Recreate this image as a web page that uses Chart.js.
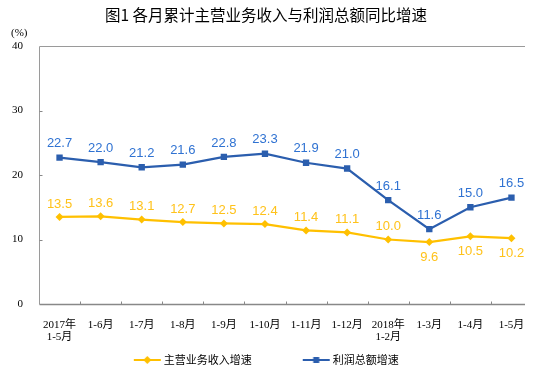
<!DOCTYPE html>
<html>
<head>
<meta charset="utf-8">
<script src="https://cdn.jsdelivr.net/npm/chart.js@4/dist/chart.umd.min.js"></script>
<style>
html,body{margin:0;padding:0;background:#fff;}
#wrap{width:538px;height:380px;}
</style>
</head>
<body>
<div id="wrap"><canvas id="c" width="538" height="380"></canvas></div>
<script>
// ---- data ----
const categories = [
  ["2017年", "1-5月"], "1-6月", "1-7月", "1-8月", "1-9月", "1-10月",
  "1-11月", "1-12月", ["2018年", "1-2月"], "1-3月", "1-4月", "1-5月"
];
const incomeGrowth = [13.5, 13.6, 13.1, 12.7, 12.5, 12.4, 11.4, 11.1, 10.0, 9.6, 10.5, 10.2];
const profitGrowth = [22.7, 22.0, 21.2, 21.6, 22.8, 23.3, 21.9, 21.0, 16.1, 11.6, 15.0, 16.5];
const yTicks = [0, 10, 20, 30, 40];
const seriesNames = ["主营业务收入增速", "利润总额增速"];
const titleText = "图1 各月累计主营业务收入与利润总额同比增速";
const unitText = "(%)";
// label placement for income series: true = below point
const incomeLabelBelow = [false, false, false, false, false, false, false, false, false, true, true, true];

const YELLOW = "#FFC000";
const YELLOW_TXT = "#FFC21A";
const BLUE = "#2B5EAE";
const BLUE_TXT = "#2F72D2";
const CJK = "'Noto Sans CJK SC', sans-serif";
const SERIF = "'Liberation Serif', 'Noto Sans CJK SC', serif";

function legendIcon(color, shape) {
  const w = 32, h = 10;
  const c = document.createElement('canvas');
  c.width = w; c.height = h;
  const g = c.getContext('2d');
  g.strokeStyle = color; g.lineWidth = 2;
  g.beginPath(); g.moveTo(w - 28, h / 2); g.lineTo(w - 1, h / 2); g.stroke();
  g.fillStyle = color;
  const cx = w - 14.5, cy = h / 2;
  if (shape === 'diamond') {
    g.beginPath(); g.moveTo(cx, cy - 4); g.lineTo(cx + 4, cy); g.lineTo(cx, cy + 4); g.lineTo(cx - 4, cy); g.closePath(); g.fill();
  } else {
    g.fillRect(cx - 3, cy - 3, 6, 6);
  }
  return c;
}

const framePlugin = {
  id: 'frame',
  beforeDatasetsDraw(chart) {
    const {ctx, chartArea: a, scales: {x, y}} = chart;
    const right = a.right - 7;
    ctx.save();
    ctx.strokeStyle = '#9a9a9a';
    ctx.lineWidth = 1;
    ctx.beginPath();
    const top = Math.round(y.getPixelForValue(40)) + 0.5;
    const bot = Math.round(y.getPixelForValue(0)) + 0.5;
    const left = Math.round(a.left) + 0.5;
    ctx.moveTo(left, top); ctx.lineTo(right, top);
    ctx.moveTo(left, top); ctx.lineTo(left, bot);
    ctx.stroke();
    ctx.strokeStyle = '#888';
    ctx.lineWidth = 1.5;
    ctx.beginPath();
    ctx.moveTo(left, bot); ctx.lineTo(right, bot);
    ctx.stroke();
    ctx.lineWidth = 1;
    ctx.beginPath();
    yTicks.forEach(v => {
      if (v === 0 || v === 40) return;
      const py = Math.round(y.getPixelForValue(v)) + 0.5;
      ctx.moveTo(left, py); ctx.lineTo(left + 3, py);
    });
    for (let i = 1; i < categories.length; i++) {
      const px = Math.round((x.getPixelForValue(i - 1) + x.getPixelForValue(i)) / 2) + 0.5;
      ctx.moveTo(px, bot); ctx.lineTo(px, bot - 3);
    }
    ctx.stroke();
    ctx.restore();
  },
  afterDraw(chart) {
    const {ctx} = chart;
    ctx.save();
    ctx.font = "11px " + SERIF;
    ctx.fillStyle = '#000';
    ctx.textAlign = 'left';
    ctx.textBaseline = 'middle';
    ctx.fillText(unitText, 11, 33);
    ctx.restore();
  }
};

const labelPlugin = {
  id: 'valueLabels',
  afterDatasetsDraw(chart) {
    const {ctx} = chart;
    ctx.save();
    ctx.font = "13px 'Liberation Sans', Arial, sans-serif";
    ctx.textAlign = 'center';
    ctx.textBaseline = 'middle';
    chart.data.datasets.forEach((ds, di) => {
      const meta = chart.getDatasetMeta(di);
      meta.data.forEach((pt, i) => {
        const v = ds.data[i];
        let dy;
        if (di === 0) dy = incomeLabelBelow[i] ? 15 : -13;
        else dy = -14;
        ctx.fillStyle = di === 0 ? YELLOW_TXT : BLUE_TXT;
        ctx.fillText(v.toFixed(1), pt.x, pt.y + dy);
      });
    });
    ctx.restore();
  }
};

new Chart(document.getElementById('c'), {
  type: 'line',
  data: {
    labels: categories,
    datasets: [
      {
        label: seriesNames[0],
        data: incomeGrowth,
        borderColor: YELLOW,
        backgroundColor: YELLOW,
        borderWidth: 2.25,
        pointStyle: 'rectRot',
        pointRadius: 4,
        pointBackgroundColor: YELLOW,
        pointBorderWidth: 0,
        tension: 0
      },
      {
        label: seriesNames[1],
        data: profitGrowth,
        borderColor: BLUE,
        backgroundColor: BLUE,
        borderWidth: 2.25,
        pointStyle: 'rect',
        pointRadius: 4.5,
        pointBackgroundColor: BLUE,
        pointBorderWidth: 0,
        tension: 0
      }
    ]
  },
  options: {
    responsive: false,
    devicePixelRatio: 1,
    animation: false,
    layout: { padding: { left: 0, right: 6, top: 0, bottom: 4.5 } },
    scales: {
      x: {
        type: 'category',
        offset: true,
        grid: { display: false, drawTicks: false },
        border: { display: false },
        ticks: {
          font: { family: SERIF, size: 11, lineHeight: 1.1 },
          color: '#000',
          mirror: true,
          padding: -27,
          maxRotation: 0,
          autoSkip: false
        },
        afterFit(scale) { scale.height = 0; }
      },
      y: {
        min: 0, max: 40,
        grid: { display: false, drawTicks: false },
        border: { display: false },
        ticks: {
          stepSize: 10,
          font: { family: SERIF, size: 11 },
          color: '#000',
          padding: 16
        },
        afterBuildTicks(scale) { scale.ticks = yTicks.map(v => ({value: v})); },
        afterFit(scale) { scale.width = 39; }
      }
    },
    plugins: {
      title: {
        display: true,
        text: titleText,
        font: { family: CJK, size: 15.5, weight: 'normal' },
        color: '#000',
        padding: { top: 6, bottom: 21.4 }
      },
      legend: {
        display: true,
        position: 'bottom',
        labels: {
          usePointStyle: true,
          pointStyleWidth: 25,
          padding: 50.5,
          color: '#000',
          font: { family: CJK, size: 11 },
          generateLabels(chart) {
            return chart.data.datasets.map((ds, i) => ({
              text: ds.label,
              fillStyle: ds.borderColor,
              strokeStyle: ds.borderColor,
              lineWidth: 0,
              pointStyle: legendIcon(ds.borderColor, i === 0 ? 'diamond' : 'square'),
              datasetIndex: i,
              fontColor: '#000'
            }));
          }
        }
      },
      tooltip: { enabled: false }
    }
  },
  plugins: [framePlugin, labelPlugin]
});
</script>
</body>
</html>
